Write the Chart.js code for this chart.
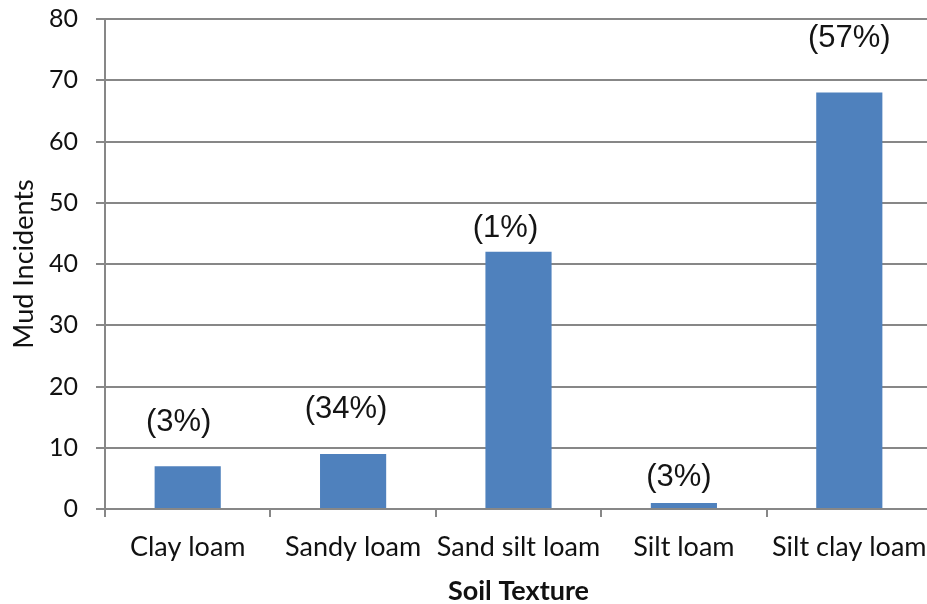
<!DOCTYPE html>
<html>
<head>
<meta charset="utf-8">
<script src="https://cdn.jsdelivr.net/npm/chart.js@4/dist/chart.umd.min.js"></script>
<style>
  html, body { margin: 0; padding: 0; background: #fff; overflow: hidden; }
  #wrap { width: 936px; height: 604px; position: relative; }
</style>
</head>
<body>
<div id="wrap"><canvas id="c"></canvas></div>
<script>
// Mud incidents by soil texture
const soilTextures = ['Clay loam', 'Sandy loam', 'Sand silt loam', 'Silt loam', 'Silt clay loam'];
const mudIncidents = [7, 9, 42, 1, 68];
const shareLabels = ['(3%)', '(34%)', '(1%)', '(3%)', '(57%)'];
const yTicks = [0, 10, 20, 30, 40, 50, 60, 70, 80];

const GRID = '#878787';
const TEXT = '#111111';

// Writes the share label above each bar; nudges are per-bar pixel offsets
const shareLabelPlugin = {
  id: 'shareLabels',
  afterDatasetsDraw(chart, args, opts) {
    const ctx = chart.ctx;
    const meta = chart.getDatasetMeta(0);
    ctx.save();
    ctx.font = opts.font;
    ctx.fillStyle = opts.color;
    ctx.textAlign = 'center';
    ctx.textBaseline = 'middle';
    meta.data.forEach((bar, i) => {
      const n = opts.nudges[i];
      ctx.fillText(shareLabels[i], bar.x + n[0], bar.y - n[1]);
    });
    ctx.restore();
  }
};

new Chart(document.getElementById('c'), {
  type: 'bar',
  data: {
    labels: soilTextures,
    datasets: [{
      data: mudIncidents,
      backgroundColor: '#4F81BD',
      borderWidth: 0,
      barPercentage: 0.4,
      categoryPercentage: 1.0
    }]
  },
  plugins: [shareLabelPlugin],
  options: {
    responsive: true,
    maintainAspectRatio: false,
    animation: false,
    layout: { padding: { top: 19, right: 4, left: 0, bottom: 0 } },
    plugins: {
      legend: { display: false },
      tooltip: { enabled: false },
      shareLabels: {
        font: '31px "Liberation Sans", Arial, sans-serif',
        color: '#141414',
        nudges: [[-9, 44], [-7, 44], [-13, 23], [-5, 25], [0, 54]]
      }
    },
    scales: {
      x: {
        offset: true,
        grid: {
          offset: true,
          drawOnChartArea: false,
          drawTicks: true,
          tickLength: 8,
          color: GRID,
          lineWidth: 2
        },
        border: { display: false },
        ticks: {
          color: TEXT,
          font: { family: 'Lato', size: 27 },
          padding: 14,
          maxRotation: 0,
          autoSkip: false
        },
        title: {
          display: true,
          text: 'Soil Texture',
          color: TEXT,
          font: { family: 'Lato', size: 27, weight: 'bold' },
          padding: { top: 0, bottom: -3 }
        },
        afterFit(scale) {
          scale.height = 95;
          scale.paddingLeft = 0;
          scale.paddingRight = 0;
        }
      },
      y: {
        min: 0,
        max: 80,
        afterBuildTicks(scale) { scale.ticks = yTicks.map(v => ({ value: v })); },
        grid: {
          color: GRID,
          lineWidth: 2,
          drawTicks: true,
          tickLength: 9
        },
        border: { display: true, color: GRID, width: 2 },
        ticks: {
          color: TEXT,
          font: { family: 'Lato', size: 25 },
          padding: 18
        },
        title: {
          display: true,
          text: 'Mud Incidents',
          color: TEXT,
          font: { family: 'Lato', size: 27 },
          padding: { top: 8, bottom: 0 }
        },
        afterFit(scale) {
          scale.width = 105;
          scale.paddingTop = 0;
          scale.paddingBottom = 0;
        }
      }
    }
  }
});
</script>
</body>
</html>
